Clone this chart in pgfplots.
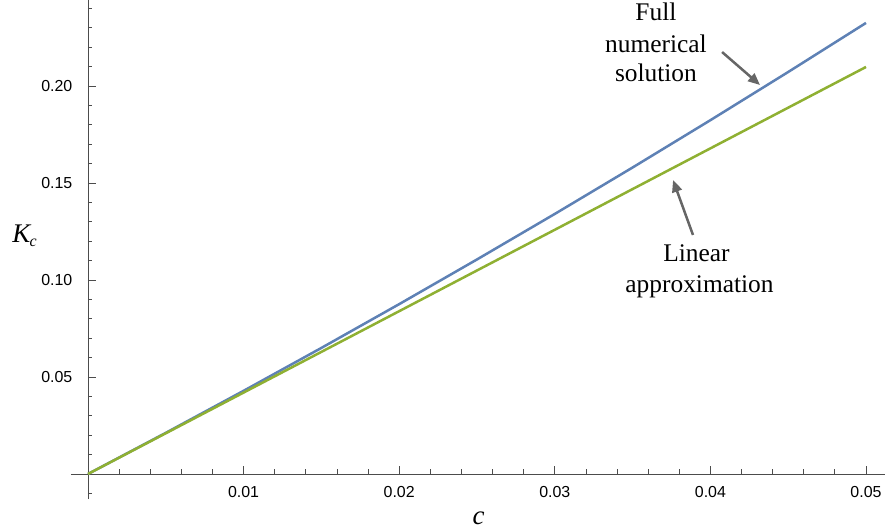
\documentclass[border=0pt]{standalone}
\usepackage{fontspec}
\setmainfont{Liberation Sans}
\newfontfamily\tms{Liberation Serif}
\usepackage{pgfplots}
\pgfplotsset{compat=1.18}
\usetikzlibrary{arrows.meta}
\definecolor{mblue}{rgb}{0.368417,0.506779,0.709798}
\definecolor{mgreen}{rgb}{0.560181,0.691569,0.194885}
\definecolor{arrowgray}{gray}{0.4}
\begin{document}
\begin{tikzpicture}
\path[use as bounding box] (0,0) rectangle (886bp,531bp);
\begin{axis}[
  at={(70.88bp,31.8bp)}, anchor=south west,
  scale only axis, width=813.79bp, height=499.16bp,
  xmin=-0.0011, xmax=0.0512, ymin=-0.013, ymax=0.2443,
  axis lines=middle,
  axis line style={-, draw=black!70, line width=0.9bp},
  scaled x ticks=false, scaled y ticks=false,
  xtick={0.01,0.02,0.03,0.04,0.05},
  xticklabels={0.01,0.02,0.03,0.04,0.05},
  ytick={0.05,0.10,0.15,0.20},
  yticklabels={0.05,0.10,0.15,0.20},
  minor xtick={0.002,0.004,0.006,0.008,0.012,0.014,0.016,0.018,0.022,0.024,0.026,0.028,0.032,0.034,0.036,0.038,0.042,0.044,0.046,0.048},
  minor ytick={-0.01,0.01,0.02,0.03,0.04,0.06,0.07,0.08,0.09,0.11,0.12,0.13,0.14,0.16,0.17,0.18,0.19,0.21,0.22,0.23,0.24},
  tick align=inside,
  major tick length=8bp, minor tick length=4.5bp,
  every tick/.style={black!70, line width=0.8bp},
  xticklabel style={anchor=center, yshift=-18.5bp, inner sep=0pt, font=\fontsize{16}{18}\selectfont},
  yticklabel style={anchor=east, xshift=-15.5bp, inner sep=0pt, font=\fontsize{16}{18}\selectfont},
  clip=false,
]
\addplot[mblue, line width=2.5bp] coordinates {
  (0,0) (0.005,0.02121) (0.01,0.04287) (0.015,0.06498) (0.02,0.08755)
  (0.025,0.11058) (0.03,0.13405) (0.035,0.15798) (0.04,0.18237)
  (0.045,0.20721) (0.05,0.2325)};
\addplot[mgreen, line width=2.5bp] coordinates {
  (0,0) (0.005,0.02098) (0.01,0.04196) (0.015,0.06294) (0.02,0.08392)
  (0.025,0.1049) (0.03,0.12588) (0.035,0.14686) (0.04,0.16784)
  (0.045,0.18882) (0.05,0.2098)};
\draw[-{Triangle[length=12bp,width=10bp]}, arrowgray, line width=2.5bp]
  (axis cs:0.04075,0.2175) -- (axis cs:0.04319,0.2005);
\draw[-{Triangle[length=12bp,width=10bp]}, arrowgray, line width=2.5bp]
  (axis cs:0.03888,0.1232) -- (axis cs:0.03760,0.1515);
\tikzset{ann/.style={anchor=base, inner sep=0pt, font=\tms\fontsize{25.5}{30}\selectfont}}
\node[ann] at (axis cs:0.0365,0.2340) {Full};
\node[ann] at (axis cs:0.0365,0.2175) {numerical};
\node[ann] at (axis cs:0.0365,0.2021) {solution};
\node[ann] at (axis cs:0.0391,0.1093) {Linear};
\node[ann] at (axis cs:0.0393,0.0938) {approximation};
\node[anchor=base west, inner sep=0pt] at (axis cs:-0.00488,0.1191)
  {\tms\itshape\fontsize{27}{30}\selectfont K\kern-0.5bp\raisebox{-4bp}{\fontsize{16}{18}\selectfont c}};
\node[anchor=base, inner sep=0pt] at (axis cs:0.0251,-0.0258)
  {\tms\itshape\fontsize{27}{30}\selectfont c};
\end{axis}
\end{tikzpicture}
\end{document}
